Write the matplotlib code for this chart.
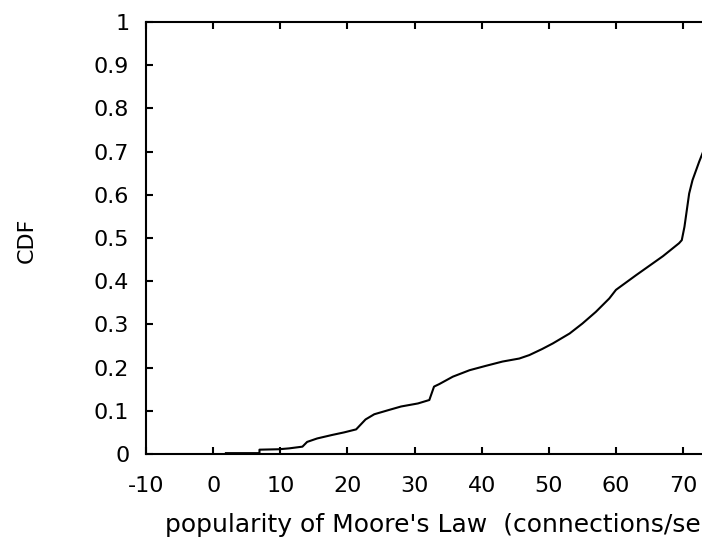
import matplotlib
matplotlib.use("Agg")
import matplotlib.pyplot as plt

# ---- Data ----
cdf_x = [1.9, 4.5, 6.9, 6.9, 9.8, 11.3, 13.3, 14.0, 15.5, 17.7, 19.5, 21.3,
         22.7, 24.0, 26.2, 28.0, 30.5, 32.2, 32.9, 33.7, 35.7, 38.2, 40.6,
         43.1, 45.6, 47.1, 49.0, 50.6, 53.1, 55.0, 57.0, 59.0, 60.0, 63.0,
         65.0, 67.0, 69.4, 69.8, 70.2, 70.9, 71.4, 72.4, 73.5]
cdf_y = [0.002, 0.002, 0.002, 0.010, 0.011, 0.013, 0.017, 0.028, 0.036, 0.044,
         0.050, 0.057, 0.080, 0.092, 0.102, 0.110, 0.117, 0.125, 0.156, 0.162,
         0.179, 0.194, 0.204, 0.214, 0.221, 0.229, 0.243, 0.256, 0.279, 0.302,
         0.329, 0.360, 0.380, 0.414, 0.436, 0.458, 0.488, 0.495, 0.526, 0.603,
         0.634, 0.677, 0.72]

x_ticks = [-10, 0, 10, 20, 30, 40, 50, 60, 70, 80]
y_ticks = [0, 0.1, 0.2, 0.3, 0.4, 0.5, 0.6, 0.7, 0.8, 0.9, 1]
y_labels = ["0", "0.1", "0.2", "0.3", "0.4", "0.5", "0.6", "0.7", "0.8", "0.9", "1"]

plt.rcParams["font.family"] = ["DejaVu Sans"]
plt.rcParams["axes.unicode_minus"] = False

W, H = 702, 542
fig = plt.figure(figsize=(W / 100, H / 100), dpi=100)

# axes: left spine at x=146px, top 22px, bottom 454px; right side runs off the canvas
left, top, bottom = 146, 22, 454
px_per_unit = 6.714
xmin, xmax = -10, 80
width = (xmax - xmin) * px_per_unit
ax = fig.add_axes([left / W, 1 - bottom / H, width / W, (bottom - top) / H])

ax.plot(cdf_x, cdf_y, color="black", linewidth=1.5)

ax.set_xlim(xmin, xmax)
ax.set_ylim(0, 1)
ax.set_xticks(x_ticks)
ax.set_yticks(y_ticks)
ax.set_yticklabels(y_labels)

for s in ax.spines.values():
    s.set_linewidth(1.5)
ax.tick_params(direction="in", length=5, width=1.5, top=True, right=True,
               labelsize=16)
ax.tick_params(axis="y", pad=12)
ax.tick_params(axis="x", pad=16)

# x label is cut off by the right edge, as in the reference
fig.text(165 / W, 1 - 532 / H, "popularity of Moore's Law  (connections/sec)",
         fontsize=18, ha="left", va="baseline")
fig.text(27 / W, 1 - 240 / H, "CDF", fontsize=16, rotation=90,
         ha="center", va="center")

fig.savefig("out.png", dpi=100)
